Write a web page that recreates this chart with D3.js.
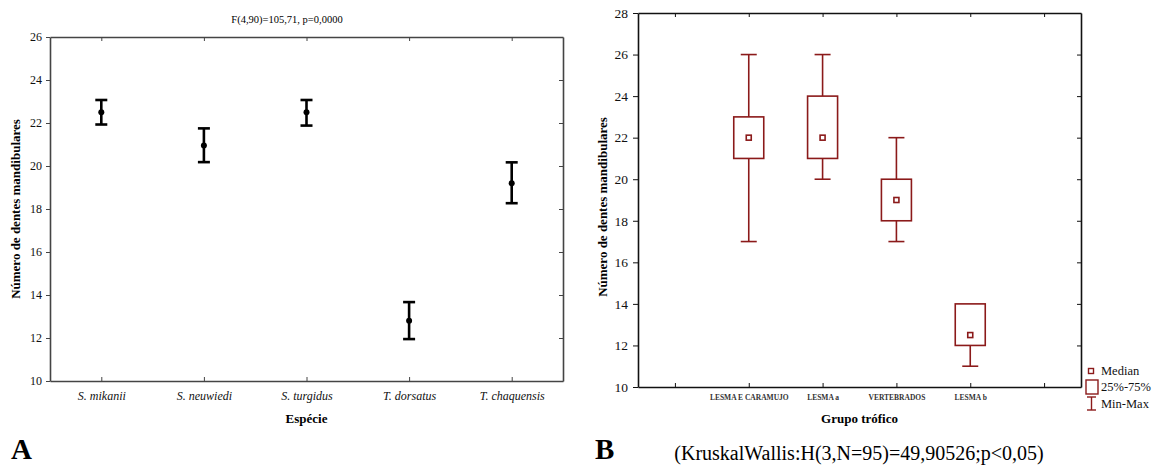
<!DOCTYPE html>
<html>
<head>
<meta charset="utf-8">
<script src="https://cdn.jsdelivr.net/npm/d3@7"></script>
<style>
  body { margin: 0; background: #fff; }
  svg text { font-family: "Liberation Serif", "Times New Roman", serif; }
</style>
</head>
<body>
<div id="chart"></div>
<script>
// Panel A: mean and error bars by species
const species = ["S. mikanii", "S. neuwiedi", "S. turgidus", "T. dorsatus", "T. chaquensis"];
const speciesMean = [22.5, 20.95, 22.5, 12.8, 19.2];
const speciesLow = [21.93, 20.18, 21.88, 11.95, 18.27];
const speciesHigh = [23.07, 21.75, 23.07, 13.67, 20.17];
const yTicksA = [10, 12, 14, 16, 18, 20, 22, 24, 26];

// Panel B: box plot by trophic group
const groups = ["LESMA E CARAMUJO", "LESMA a", "VERTEBRADOS", "LESMA b"];
const groupMin = [17, 20, 17, 11];
const groupQ1 = [21, 21, 18, 12];
const groupMedian = [22, 22, 19, 12.5];
const groupQ3 = [23, 24, 20, 14];
const groupMax = [26, 26, 22, 14];
const yTicksB = [10, 12, 14, 16, 18, 20, 22, 24, 26, 28];

const width = 1161, height = 466;
const svg = d3.select("#chart").append("svg").attr("width", width).attr("height", height);

// style helper for frame axes
function styleAxis(g, color, size) {
    g.select(".domain").attr("stroke", color).attr("stroke-width", 1.6);
    g.selectAll(".tick line").attr("stroke", color).attr("stroke-width", 1);
    g.selectAll(".tick text").attr("fill", "#111").style("font-size", size + "px")
        .style("font-family", "'Liberation Serif', serif");
}

// ---------- Panel A ----------
const a = { left: 50, right: 563, top: 37, bottom: 381 };
const xA = d3.scalePoint().domain(species).range([a.left, a.right]).padding(0.5);
const yA = d3.scaleLinear().domain([10, 26]).range([a.bottom, a.top]);

const axA = [
    svg.append("g").attr("transform", `translate(0,${a.bottom})`)
        .call(d3.axisBottom(xA).tickSizeInner(-4).tickSizeOuter(0).tickPadding(10)),
    svg.append("g").attr("transform", `translate(0,${a.top})`)
        .call(d3.axisTop(xA).tickSizeInner(-4).tickSizeOuter(0).tickFormat("")),
    svg.append("g").attr("transform", `translate(${a.left},0)`)
        .call(d3.axisLeft(yA).tickValues(yTicksA).tickSizeInner(4).tickSizeOuter(0).tickPadding(4)),
    svg.append("g").attr("transform", `translate(${a.right},0)`)
        .call(d3.axisRight(yA).tickValues(yTicksA).tickSizeInner(-4).tickSizeOuter(0).tickFormat(""))
];
axA.forEach(g => styleAxis(g, "#444", 12));
axA[0].selectAll(".tick text").style("font-style", "italic");

// error bars
species.forEach((s, i) => {
    const x = xA(s);
    const g = svg.append("g").attr("stroke", "#000").attr("stroke-width", 2.6);
    g.append("line").attr("x1", x).attr("x2", x).attr("y1", yA(speciesLow[i])).attr("y2", yA(speciesHigh[i]));
    g.append("line").attr("x1", x - 6).attr("x2", x + 6).attr("y1", yA(speciesLow[i])).attr("y2", yA(speciesLow[i]));
    g.append("line").attr("x1", x - 6).attr("x2", x + 6).attr("y1", yA(speciesHigh[i])).attr("y2", yA(speciesHigh[i]));
    svg.append("circle").attr("cx", x).attr("cy", yA(speciesMean[i])).attr("r", 3).attr("fill", "#000");
});

svg.append("text").attr("x", 287).attr("y", 23).attr("text-anchor", "middle")
    .style("font-size", "10.5px").text("F(4,90)=105,71, p=0,0000");
svg.append("text").attr("transform", `translate(20,${(a.top + a.bottom) / 2}) rotate(-90)`)
    .attr("text-anchor", "middle").style("font-size", "13px").style("font-weight", "bold")
    .text("Número de dentes mandibulares");
svg.append("text").attr("x", (a.left + a.right) / 2).attr("y", 423).attr("text-anchor", "middle")
    .style("font-size", "13px").style("font-weight", "bold").text("Espécie");
svg.append("text").attr("x", 11).attr("y", 459).style("font-size", "29px").style("font-weight", "bold").text("A");

// ---------- Panel B ----------
const b = { left: 638, right: 1081, top: 13, bottom: 387 };
const slots = d3.range(groups.length + 2);
const xB = d3.scaleLinear().domain([-0.5, groups.length + 1.5]).range([b.left, b.right]);
const yB = d3.scaleLinear().domain([10, 28]).range([b.bottom, b.top]);
const slotLabel = i => groups[i - 1] || "";

const axB = [
    svg.append("g").attr("transform", `translate(0,${b.bottom})`)
        .call(d3.axisBottom(xB).tickValues(slots).tickFormat(slotLabel).tickSizeInner(-4).tickSizeOuter(0).tickPadding(8)),
    svg.append("g").attr("transform", `translate(0,${b.top})`)
        .call(d3.axisTop(xB).tickValues(slots).tickFormat("").tickSizeInner(-4).tickSizeOuter(0)),
    svg.append("g").attr("transform", `translate(${b.left},0)`)
        .call(d3.axisLeft(yB).tickValues(yTicksB).tickSizeInner(5).tickSizeOuter(0).tickPadding(5)),
    svg.append("g").attr("transform", `translate(${b.right},0)`)
        .call(d3.axisRight(yB).tickValues(yTicksB).tickSizeInner(-4).tickSizeOuter(0).tickFormat(""))
];
axB.forEach(g => styleAxis(g, "#111", 13.5));
axB[0].selectAll(".tick text").style("font-size", "7.5px").style("font-weight", "bold").attr("fill", "#333");

const boxColor = "#8b1a1a";
const boxW = 30, capW = 16, medS = 5;
groups.forEach((grp, i) => {
    const x = xB(i + 1);
    const g = svg.append("g").attr("stroke", boxColor).attr("stroke-width", 1.6).attr("fill", "none");
    if (groupMax[i] > groupQ3[i]) {
        g.append("line").attr("x1", x).attr("x2", x).attr("y1", yB(groupQ3[i])).attr("y2", yB(groupMax[i]));
        g.append("line").attr("x1", x - capW / 2).attr("x2", x + capW / 2).attr("y1", yB(groupMax[i])).attr("y2", yB(groupMax[i]));
    }
    if (groupMin[i] < groupQ1[i]) {
        g.append("line").attr("x1", x).attr("x2", x).attr("y1", yB(groupQ1[i])).attr("y2", yB(groupMin[i]));
        g.append("line").attr("x1", x - capW / 2).attr("x2", x + capW / 2).attr("y1", yB(groupMin[i])).attr("y2", yB(groupMin[i]));
    }
    g.append("rect").attr("x", x - boxW / 2).attr("y", yB(groupQ3[i]))
        .attr("width", boxW).attr("height", yB(groupQ1[i]) - yB(groupQ3[i])).attr("fill", "#fff");
    g.append("rect").attr("x", x - medS / 2).attr("y", yB(groupMedian[i]) - medS / 2)
        .attr("width", medS).attr("height", medS).attr("fill", "#fff");
});

// legend
const lg = svg.append("g").attr("stroke", boxColor).attr("stroke-width", 1.4).attr("fill", "none");
lg.append("rect").attr("x", 1088.5).attr("y", 368.5).attr("width", 5).attr("height", 5);
lg.append("rect").attr("x", 1086).attr("y", 380).attr("width", 12).attr("height", 14);
lg.append("line").attr("x1", 1091.5).attr("x2", 1091.5).attr("y1", 397).attr("y2", 410);
lg.append("line").attr("x1", 1087).attr("x2", 1096).attr("y1", 397).attr("y2", 397);
lg.append("line").attr("x1", 1087).attr("x2", 1096).attr("y1", 410).attr("y2", 410);
[["Median", 375], ["25%-75%", 391], ["Min-Max", 408]].forEach(([t, y]) => {
    svg.append("text").attr("x", 1101).attr("y", y).style("font-size", "12.5px").attr("fill", "#111").text(t);
});

svg.append("text").attr("transform", `translate(607,207) rotate(-90)`)
    .attr("text-anchor", "middle").style("font-size", "13px").style("font-weight", "bold")
    .text("Número de dentes mandibulares");
svg.append("text").attr("x", (b.left + b.right) / 2).attr("y", 423).attr("text-anchor", "middle")
    .style("font-size", "13px").style("font-weight", "bold").text("Grupo trófico");
svg.append("text").attr("x", 595).attr("y", 459).style("font-size", "29px").style("font-weight", "bold").text("B");
svg.append("text").attr("x", 859).attr("y", 460).attr("text-anchor", "middle")
    .style("font-size", "20px").text("(KruskalWallis:H(3,N=95)=49,90526;p<0,05)");
</script>
</body>
</html>
